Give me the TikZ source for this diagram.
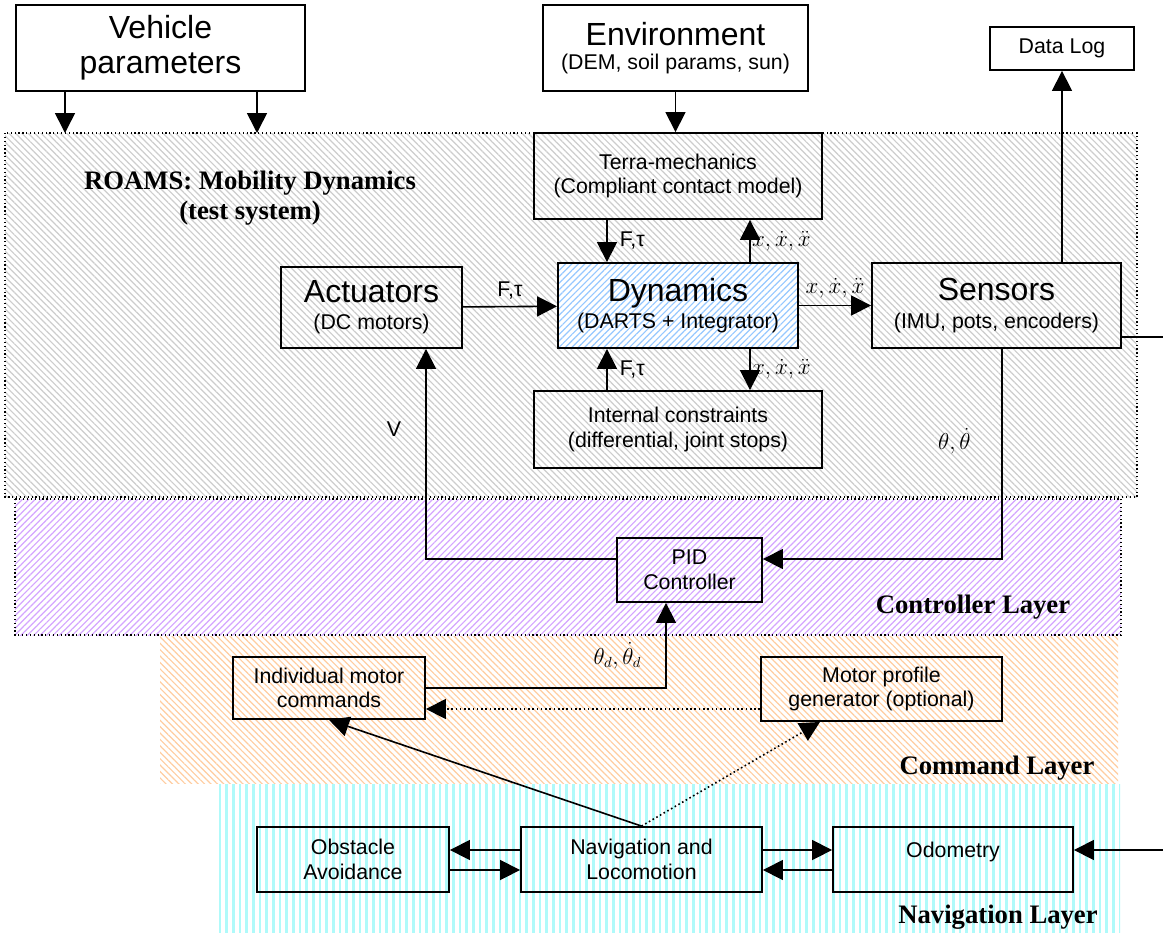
\documentclass[tikz,border=0pt]{standalone}
\usepackage{fontspec}
\setmainfont{Liberation Sans}
\newfontfamily\layerfont{Liberation Serif}
\usepackage{xcolor}
\usepackage{tikz}
\usetikzlibrary{positioning,calc,arrows.meta,patterns.meta}

\definecolor{hatchgrey}{RGB}{205,205,205}
\definecolor{hatchpurple}{RGB}{212,165,255}
\definecolor{hatchorange}{RGB}{255,205,160}
\definecolor{hatchcyan}{RGB}{175,250,250}
\definecolor{hatchblue}{RGB}{150,200,255}

\newcommand{\bigtxt}{\fontsize{24}{26}\selectfont}
\newcommand{\smalltxt}{\fontsize{16}{18.5}\selectfont}

\tikzset{
  blk/.style={draw, line width=1.4pt, align=center, inner sep=2pt, font=\smalltxt},
  arr/.style={line width=1.2pt, -{Triangle[length=15pt,width=15pt]}},
  wire/.style={line width=1.2pt},
  lbl/.style={font=\smalltxt, inner sep=1pt},
  mlbl/.style={font=\fontsize{16}{18}\selectfont, inner sep=1pt},
  layer/.style={font=\layerfont\bfseries\fontsize{20}{23}\selectfont, align=center},
  zone/.style={draw, dotted, line width=0.9pt},
  hatch/.style 2 args={pattern={Lines[angle=#1,distance=3.4pt,line width=0.9pt]}, pattern color=#2},
}

\begin{document}
\begin{tikzpicture}[x=0.75pt, y=-0.75pt]
    \fill[white] (0,0) rectangle (1163,932);
    \useasboundingbox (0,0) rectangle (1163,932);

    % Layers
    \fill[hatch={-45}{hatchgrey}] (5,133) rectangle (1137,497);
    \draw[zone] (5,133) rectangle (1137,497);
    \fill[hatch={45}{hatchpurple}] (15,499) rectangle (1121,635);
    \draw[zone] (15,499) rectangle (1121,635);
    \fill[hatch={-45}{hatchorange}] (160,636) rectangle (1118,783);
    \fill[pattern={Lines[angle=90,distance=5pt,line width=2pt]}, pattern color=hatchcyan] (216,784) rectangle (1120,932);

    \node[layer] (roamsT) at (250,198) {ROAMS: Mobility Dynamics\\(test system)};
    \node[layer] (ctrlT) at (973,607) {Controller Layer};
    \node[layer] (cmdT) at (997,768) {Command Layer};
    \node[layer] (navT) at (998,917) {Navigation Layer};

    % Inputs and log
    \node[blk, font=\bigtxt, minimum width=216.75pt, minimum height=64.5pt] (veh) at (160.5,48) {Vehicle\\parameters};
    \node[blk, minimum width=198.75pt, minimum height=64.5pt] (env) at (675.5,48) {{\bigtxt Environment}\\(DEM, soil params, sun)};
    \node[blk, minimum width=108pt, minimum height=32.25pt] (log) at (1062,48.5) {Data Log};

    % Mobility dynamics
    \node[blk, minimum width=216pt, minimum height=64.5pt] (terra) at (678,176) {Terra-mechanics\\(Compliant contact model)};
    \node[blk, minimum width=135.75pt, minimum height=60.75pt] (act) at (371.5,307.5) {{\bigtxt Actuators}\\[2pt](DC motors)};
    \node[blk, minimum width=180pt, minimum height=63.75pt, preaction={fill=white}, hatch={45}{hatchblue}] (dyn) at (678,305.5) {{\bigtxt Dynamics}\\[2pt](DARTS + Integrator)};
    \node[blk, minimum width=186.75pt, minimum height=63.75pt] (sens) at (996.5,305.5) {{\bigtxt Sensors}\\[2pt](IMU, pots, encoders)};
    \node[blk, minimum width=216pt, minimum height=57.75pt] (intc) at (678,429.5) {Internal constraints\\(differential, joint stops)};

    % Controller and command
    \node[blk, minimum width=108.75pt, minimum height=48pt] (pid) at (689.5,570) {PID\\Controller};
    \node[blk, minimum width=144pt, minimum height=46.5pt] (indv) at (329,688) {Individual motor\\commands};
    \node[blk, minimum width=180.75pt, minimum height=48pt] (mpg) at (881.5,689) {Motor profile\\generator (optional)};

    % Navigation
    \node[blk, minimum width=144pt, minimum height=48.75pt] (obs) at (353,859.5) {Obstacle\\Avoidance};
    \node[blk, minimum width=180.75pt, minimum height=48.75pt] (nav) at (641.5,859.5) {Navigation and\\Locomotion};
    \node[blk, minimum width=180pt, minimum height=48.75pt, text depth=14pt] (odo) at (953,859.5) {Odometry};

    % Reference points
    \coordinate (vin1) at (65,133);
    \coordinate (vin2) at (257,133);
    \coordinate (cF) at (607,0);
    \coordinate (cX) at (750,0);
    \coordinate (cV) at (426,0);
    \coordinate (cS) at (1002,0);
    \coordinate (cD) at (666,0);
    \coordinate (cP) at (820,0);
    \coordinate (cC) at (0,559);
    \coordinate (cM) at (0,709);
    \coordinate (cU) at (0,850);
    \coordinate (cL) at (0,870);
    \coordinate (sensOut) at (1163,337);
    \coordinate (odoIn) at (1163,850);

    % Signals
    \draw[arr] (veh.south -| vin1) -- (vin1);
    \draw[arr] (veh.south -| vin2) -- (vin2);
    \draw[arr] (env.south) -- (env.south |- terra.north);
    \draw[arr] (terra.south -| cF) -- (dyn.north -| cF) node[midway, right=8pt, lbl] {F,τ};
    \draw[arr] (dyn.north -| cX) -- (terra.south -| cX) node[midway, right, mlbl] {$x,\dot{x},\ddot{x}$};
    \draw[arr] (act) -- (dyn) node[midway, above=4pt, lbl] {F,τ};
    \draw[arr] (dyn) -- (sens) node[midway, above=4pt, mlbl] {$x,\dot{x},\ddot{x}$};
    \draw[arr] (intc.north -| cF) -- (dyn.south -| cF) node[midway, right=8pt, lbl] {F,τ};
    \draw[arr] (dyn.south -| cX) -- (intc.north -| cX) node[midway, right, mlbl] {$x,\dot{x},\ddot{x}$};
    \draw[arr] (sens.north -| log) -- (log.south);
    \draw[wire] (sens.east |- sensOut) -- (sensOut);

    \draw[arr] (sens.south -| cS) -- (cS |- cC) node[pos=0.44, left=22pt, mlbl] {$\theta,\dot{\theta}$} -- (pid.east |- cC);
    \draw[arr] (pid.west |- cC) -- (cV |- cC) -- (act.south -| cV) node[pos=0.62, left=17pt, lbl] {V};
    \draw[arr] (indv.east) -- (indv.east -| cD) -- (pid.south -| cD) node[pos=0.38, left=17pt, mlbl] {$\theta_d,\dot{\theta}_d$};
    \draw[arr, dotted] (mpg.west |- cM) -- (indv.east |- cM);
    \draw[arr] (nav.north) -- (indv.south);
    \draw[arr, dotted] (nav.north) -- (mpg.south -| cP);

    \draw[arr] (nav.west |- cU) -- (obs.east |- cU);
    \draw[arr] (obs.east |- cL) -- (nav.west |- cL);
    \draw[arr] (nav.east |- cU) -- (odo.west |- cU);
    \draw[arr] (odo.west |- cL) -- (nav.east |- cL);
    \draw[arr] (odoIn) -- (odo.east |- odoIn);
\end{tikzpicture}
\end{document}
